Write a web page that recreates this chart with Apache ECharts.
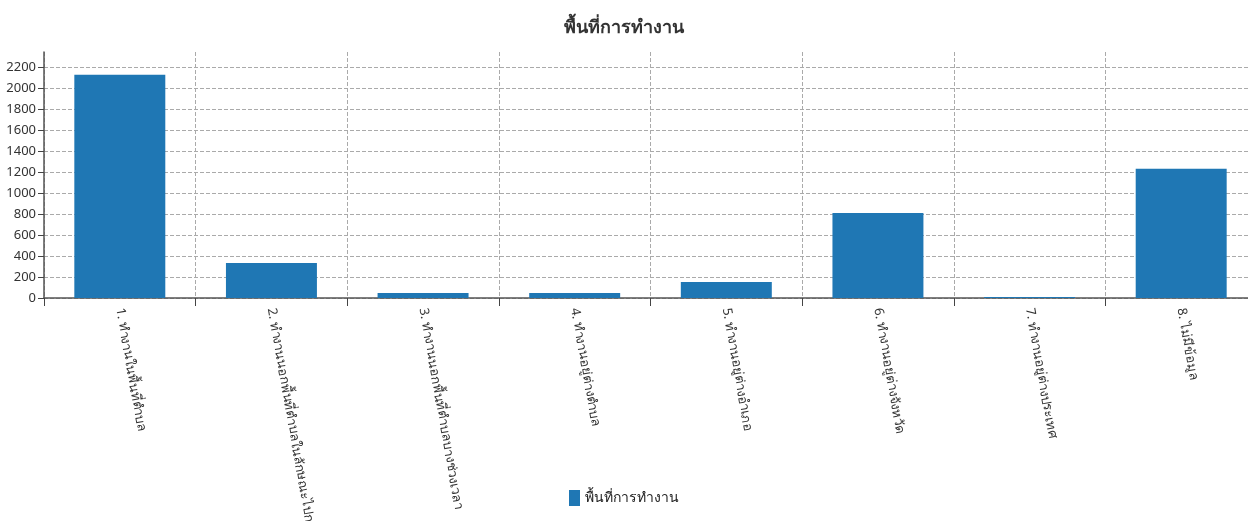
<!DOCTYPE html>
<html>
<head>
<meta charset="utf-8">
<script src="https://cdn.jsdelivr.net/npm/echarts@6/dist/echarts.min.js"></script>
<style>
  html, body { margin: 0; padding: 0; background: #fff; }
  #chart { width: 1248px; height: 521px; }
</style>
</head>
<body>
<div id="chart"></div>
<script>
  var titleText = 'พื้นที่การทำงาน';
  var categories = [
    '1. ทำงานในพื้นที่ตำบล',
    '2. ทำงานนอกพื้นที่ตำบลในลักษณะไปกลับ',
    '3. ทำงานนอกพื้นที่ตำบลบางช่วงเวลา',
    '4. ทำงานอยู่ต่างตำบล',
    '5. ทำงานอยู่ต่างอำเภอ',
    '6. ทำงานอยู่ต่างจังหวัด',
    '7. ทำงานอยู่ต่างประเทศ',
    '8. ไม่มีข้อมูล'
  ];
  var values = [2133, 335, 48, 48, 153, 813, 10, 1234];

  // 12 grid lines at the ticks, none at the top end of the axis
  var gridColors = [];
  for (var i = 0; i < 12; i++) gridColors.push('#aaa');
  gridColors.push('rgba(0,0,0,0)');

  var chart = echarts.init(document.getElementById('chart'));
  chart.setOption({
    animation: false,
    textStyle: { fontFamily: 'Tahoma, "Noto Sans", sans-serif' },
    title: {
      text: titleText,
      left: 'center',
      top: 14,
      textStyle: { fontSize: 18, fontWeight: 'bold', color: '#333' }
    },
    legend: {
      data: [titleText],
      bottom: 10,
      left: 'center',
      icon: 'rect',
      itemWidth: 11,
      itemHeight: 16,
      itemGap: 4,
      textStyle: { fontSize: 14, color: '#222' }
    },
    grid: { left: 44, top: 52, width: 1213, bottom: 223, containLabel: false, outerBoundsMode: 'none' },
    xAxis: {
      type: 'category',
      data: categories,
      axisLine: { lineStyle: { color: '#555', width: 1.5 } },
      axisTick: { show: true, length: 8, lineStyle: { color: '#444' } },
      splitLine: { show: true, lineStyle: { color: '#aaa', type: 'dashed' } },
      axisLabel: {
        rotate: -80,
        interval: 0,
        fontSize: 13,
        color: '#333',
        margin: 10
      }
    },
    yAxis: {
      type: 'value',
      min: 0,
      max: 2350,
      interval: 200,
      axisLine: { show: true, lineStyle: { color: '#555', width: 1.5 } },
      axisTick: { show: true, length: 6, lineStyle: { color: '#444' } },
      axisLabel: {
        fontSize: 13, color: '#333', margin: 8, showMaxLabel: false,
        formatter: function (v) { return String(v); }
      },
      splitLine: { show: true, lineStyle: { color: gridColors, type: 'dashed' } }
    },
    series: [{
      name: titleText,
      type: 'bar',
      data: values,
      barCategoryGap: '40%',
      itemStyle: { color: '#1f77b4' }
    }]
  });
</script>
</body>
</html>
